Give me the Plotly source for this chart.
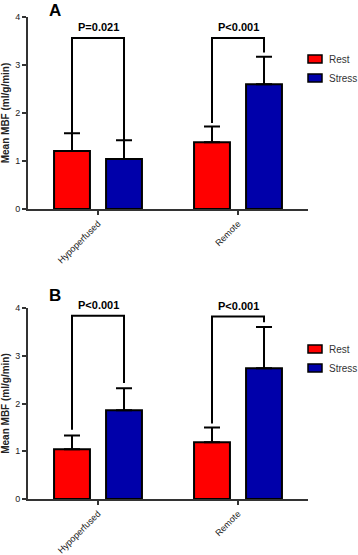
import plotly.graph_objects as go
from plotly.subplots import make_subplots

categories = ["Hypoperfused", "Remote"]
series_names = ["Rest", "Stress"]
colors = ["#ff0000", "#0000aa"]

# Panel A
a_rest = [1.21, 1.39]
a_rest_err = [0.37, 0.33]
a_stress = [1.04, 2.60]
a_stress_err = [0.39, 0.57]
a_p = ["P=0.021", "P<0.001"]
a_bracket_top = [3.56, 3.56]
a_leg_left = [1.58, 1.79]
a_leg_right = [1.43, 3.26]

# Panel B
b_rest = [1.04, 1.19]
b_rest_err = [0.29, 0.31]
b_stress = [1.86, 2.74]
b_stress_err = [0.46, 0.86]
b_p = ["P<0.001", "P<0.001"]
b_bracket_top = [3.84, 3.82]
b_leg_left = [1.45, 1.58]
b_leg_right = [2.43, 3.70]

y_ticks = [0, 1, 2, 3, 4]
y_title = "Mean MBF (ml/g/min)"
panel_letters = ["A", "B"]

W, H = 358, 555
FONT = "Liberation Sans, Arial, sans-serif"
AXC = "#333333"

BARGAP = 0.257
BARGROUPGAP = 0.31
offset = (1 - BARGAP) / 4.0

fig = make_subplots(rows=2, cols=1)

panels = [
    (a_rest, a_rest_err, a_stress, a_stress_err, a_p, a_bracket_top, a_leg_left, a_leg_right),
    (b_rest, b_rest_err, b_stress, b_stress_err, b_p, b_bracket_top, b_leg_left, b_leg_right),
]

dom_x = [28 / W, 308 / W]
ydoms = [[1 - 209 / H, 1 - 17 / H], [1 - 499 / H, 1 - 308 / H]]
legend_top_px = [59, 349]
letter_px = [(47, 10), (47, 295)]

for i, (rest, rest_e, stress, stress_e, pl, btop, legl, legr) in enumerate(panels):
    row = i + 1
    for name, vals, errs, col in [(series_names[0], rest, rest_e, colors[0]),
                                  (series_names[1], stress, stress_e, colors[1])]:
        fig.add_trace(go.Bar(
            x=categories, y=vals, name=name, showlegend=False,
            marker=dict(color=col, line=dict(color="black", width=2)),
            error_y=dict(type="data", array=errs, arrayminus=[0] * len(errs), symmetric=False,
                         color="black", thickness=2, width=8),
        ), row=row, col=1)
    xref = "x" if row == 1 else "x2"
    yref = "y" if row == 1 else "y2"
    for j in range(len(categories)):
        xl = j - offset
        xr = j + offset
        path = f"M {xl},{legl[j]} L {xl},{btop[j]} L {xr},{btop[j]} L {xr},{legr[j]}"
        fig.add_shape(type="path", path=path, xref=xref, yref=yref,
                      line=dict(color="black", width=2))
        fig.add_annotation(x=j, y=btop[j], xref=xref, yref=yref, text=f"<b>{pl[j]}</b>",
                           showarrow=False, yanchor="bottom", yshift=3,
                           font=dict(family=FONT, size=11, color="black"))
    # legend drawn manually
    for k, (nm, col) in enumerate(zip(series_names, colors)):
        yc = legend_top_px[i] + k * 19
        fig.add_shape(type="rect", xref="paper", yref="paper",
                      x0=308 / W, x1=322 / W, y0=1 - (yc - 4) / H, y1=1 - (yc + 4) / H,
                      fillcolor=col, line=dict(color="black", width=1.5))
        fig.add_annotation(x=327 / W, y=1 - yc / H, xref="paper", yref="paper", text=nm,
                           showarrow=False, xanchor="left", yanchor="middle",
                           font=dict(family=FONT, size=10, color="#333"))
    lx, ly = letter_px[i]
    fig.add_annotation(x=lx / W, y=1 - ly / H, xref="paper", yref="paper",
                       text=f"<b>{panel_letters[i]}</b>", showarrow=False, yanchor="middle",
                       font=dict(family=FONT, size=17, color="black"))

for i in range(2):
    xa = "xaxis" if i == 0 else "xaxis2"
    ya = "yaxis" if i == 0 else "yaxis2"
    fig.layout[xa].update(domain=dom_x, range=[-0.5, 1.5], showline=True, linecolor=AXC, linewidth=2,
                          ticks="outside", ticklen=4, tickwidth=1.5, tickcolor=AXC, tickangle=-45,
                          tickfont=dict(family=FONT, size=9, color="#222"), showgrid=False,
                          zeroline=False, automargin=False, anchor="y" if i == 0 else "y2")
    fig.layout[ya].update(domain=ydoms[i], range=[0, 4], tickvals=y_ticks, showline=True, linecolor=AXC,
                          linewidth=2, ticks="outside", ticklen=4, tickwidth=1.5, tickcolor=AXC,
                          tickfont=dict(family=FONT, size=9, color="#222"), showgrid=False, zeroline=False,
                          automargin=False,
                          title=dict(text=f"<b>{y_title}</b>", font=dict(family=FONT, size=10, color="#222"),
                                     standoff=6))

fig.update_layout(
    width=W, height=H, margin=dict(l=0, r=0, t=0, b=0),
    plot_bgcolor="white", paper_bgcolor="white",
    barmode="group", bargap=BARGAP, bargroupgap=BARGROUPGAP,
    showlegend=False,
)

fig.write_html("out.html", config={"displayModeBar": False},
               post_script="document.body.style.margin='0px';document.body.style.overflow='hidden';")
